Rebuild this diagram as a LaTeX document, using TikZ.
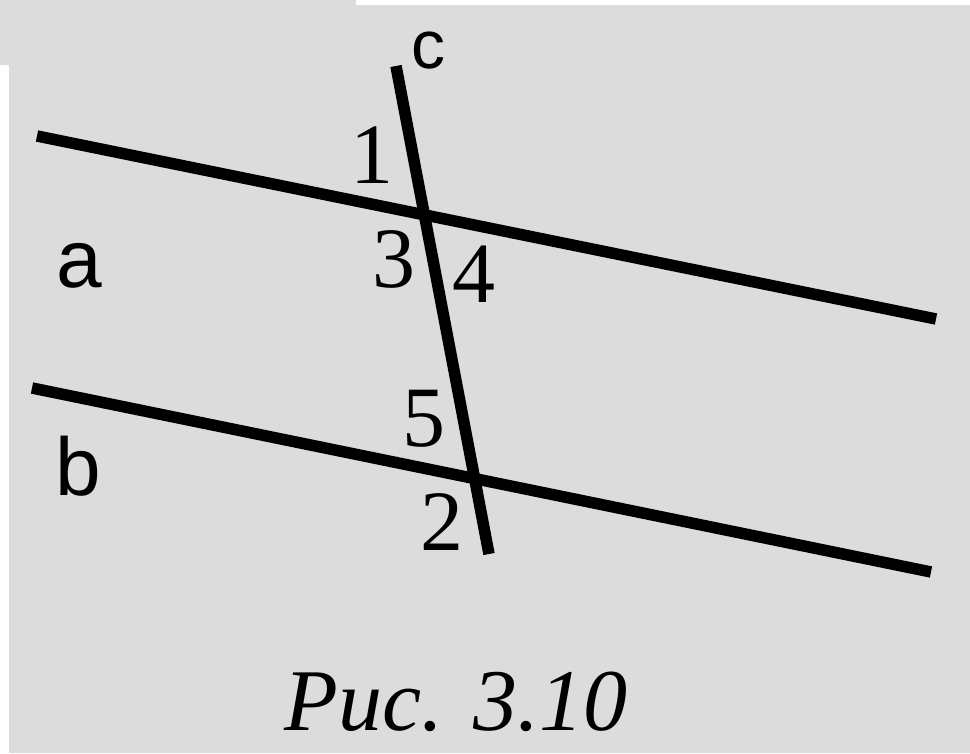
\documentclass[tikz,border=0pt]{standalone}
\usepackage{fontspec}
\setmainfont{Liberation Serif}
\newfontfamily\lettersfont{Liberation Sans}
\definecolor{bggray}{RGB}{220,220,220}
\begin{document}
\begin{tikzpicture}[x=1pt,y=-1pt,
  lineseg/.style={line width=11.5pt,line cap=butt},
  numlabel/.style={inner sep=0pt,font=\fontsize{86}{90}\selectfont},
  letlabel/.style={inner sep=0pt,font=\lettersfont\fontsize{82}{86}\selectfont},
  clabel/.style={inner sep=0pt,font=\lettersfont\fontsize{68}{72}\selectfont},
  caplabel/.style={inner sep=0pt,anchor=base,font=\itshape\fontsize{88}{92}\selectfont}]
\useasboundingbox (0,0) rectangle (970,753);
\fill[bggray] (0,0) rectangle (970,753);
\fill[white] (356,0) rectangle (970,5);
\fill[white] (0,65) rectangle (9,753);
% line endpoints
\coordinate (aL) at (37,136);
\coordinate (aR) at (936,319);
\coordinate (bL) at (32,388);
\coordinate (bR) at (931,572);
\coordinate (cT) at (396,66);
\coordinate (cB) at (489,554);
\draw[lineseg] (aL) -- (aR);
\draw[lineseg] (bL) -- (bR);
\draw[lineseg] (cT) -- (cB);
% labels
\node[clabel] (lc) at (428,51) {c};
\node[letlabel] (la) at (79,266) {a};
\node[letlabel] (lb) at (78,466) {b};
\node[numlabel] (n1) at (372,155) {1};
\node[numlabel] (n3) at (394,259) {3};
\node[numlabel] (n4) at (474,274) {4};
\node[numlabel] (n5) at (424,419) {5};
\node[numlabel] (n2) at (442,522) {2};
\node[caplabel] (cap) at (456,730) {Рис. 3.10};
\end{tikzpicture}
\end{document}
